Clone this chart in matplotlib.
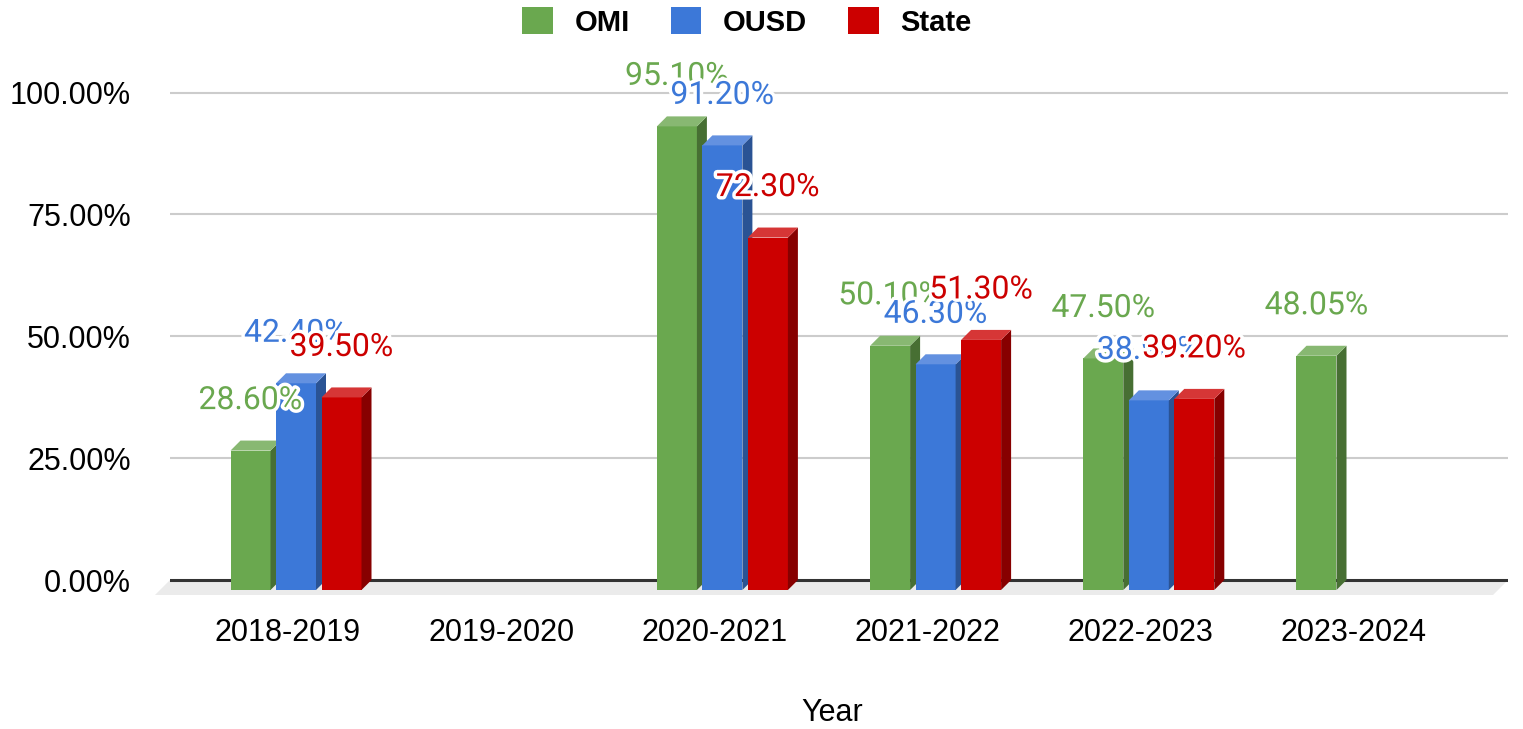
import numpy as np
import matplotlib.pyplot as plt
from matplotlib.patches import Patch
import matplotlib.patheffects as pe

# data (percent)
years = ['2018-2019', '2019-2020', '2020-2021', '2021-2022', '2022-2023', '2023-2024']
omi = [28.60, np.nan, 95.10, 50.10, 47.50, 48.05]
ousd = [42.40, np.nan, 91.20, 46.30, 38.90, np.nan]
state = [39.50, np.nan, 72.30, 51.30, 39.20, np.nan]
series_names = ['OMI', 'OUSD', 'State']
yticks = [0, 25, 50, 75, 100]

# colours: front, top, side
colors = {
    'OMI': ('#6aa84f', '#88b872', '#476f33'),
    'OUSD': ('#3c78d8', '#6391e0', '#2a5394'),
    'State': ('#cc0000', '#d63636', '#870000'),
}

W, H = 1523, 729
fig = plt.figure(figsize=(W / 100, H / 100), dpi=100)
ax = fig.add_axes([170 / W, 1 - 600 / H, 1338 / W, 550 / H])

# pixel scales used for the fake 3D look
px_x = 213.2          # px per category
px_y = 4.875          # px per percent
ax.set_xlim((170 - 288) / px_x, (1508 - 288) / px_x)
ax.set_ylim(-20 / px_y, 530 / px_y)

DX, DY = 10 / px_x, 10 / px_y
FDX, FDY = 15 / px_x, 15 / px_y
bw = 40 / px_x
pitch = 45.5 / px_x
shift = 8 / px_x

# grid + floor
for t in yticks:
    ax.axhline(t, color='#333333' if t == 0 else '#cccccc',
               lw=2.2 if t == 0 else 1.5, zorder=1)
xl, xr = ax.get_xlim()
ax.fill([xl, xr, xr - FDX, xl - FDX], [0, 0, -FDY, -FDY],
        color='#ebebeb', lw=0, zorder=0.5, clip_on=False)

x = np.arange(len(years))
z = 2
all_series = [omi, ousd, state]
for i, x0 in enumerate(x):
    for k, (name, vals) in enumerate(zip(series_names, all_series)):
        v = vals[i]
        if np.isnan(v):
            continue
        front, top, side = colors[name]
        c = x0 + shift + (k - 1) * pitch
        l, r = c - bw / 2, c + bw / 2
        ax.bar(c, v, width=bw, bottom=-DY, color=front, lw=0, zorder=z)
        ax.fill([r, r + DX, r + DX, r], [-DY, 0, v, v - DY],
                color=side, lw=0, zorder=z)
        ax.fill([l, l + DX, r + DX, r], [v - DY, v, v, v - DY],
                color=top, lw=0, zorder=z)
        z += 1

# data labels
for i, x0 in enumerate(x):
    for k, (name, vals) in enumerate(zip(series_names, all_series)):
        v = vals[i]
        if np.isnan(v):
            continue
        c = x0 + shift + (k - 1) * pitch
        ax.text(c, v + 8.2, f'{v:.2f}%', ha='center', va='center',
                fontsize=23, family='Roboto', color=colors[name][0],
                zorder=100, clip_on=False,
                path_effects=[pe.withStroke(linewidth=5, foreground='white')])

ax.set_xticks(x)
ax.set_xticklabels(years, fontsize=22, family='Liberation Sans')
ax.set_yticks(yticks)
ax.set_yticklabels([f'{t:.2f}%' for t in yticks], fontsize=22,
                   family='Liberation Sans')
ax.tick_params(axis='both', length=0)
ax.tick_params(axis='y', pad=28)
ax.tick_params(axis='x', pad=13)
for s in ax.spines.values():
    s.set_visible(False)

ax.set_xlabel('Year', fontsize=22, family='Liberation Sans', va='center')
ax.xaxis.set_label_coords((832 - 170) / 1338, (600 - 713) / 550)

handles = [Patch(facecolor=colors[n][0], edgecolor='none', label=n)
           for n in series_names]
fig.legend(handles=handles, loc='center', bbox_to_anchor=(747 / W, 1 - 22 / H),
           ncol=3, frameon=False, handlelength=1.05, handleheight=1.05,
           handletextpad=0.75, columnspacing=1.4,
           prop={'family': 'Liberation Sans', 'weight': 'bold', 'size': 21})

fig.savefig('out.png', dpi=100)
